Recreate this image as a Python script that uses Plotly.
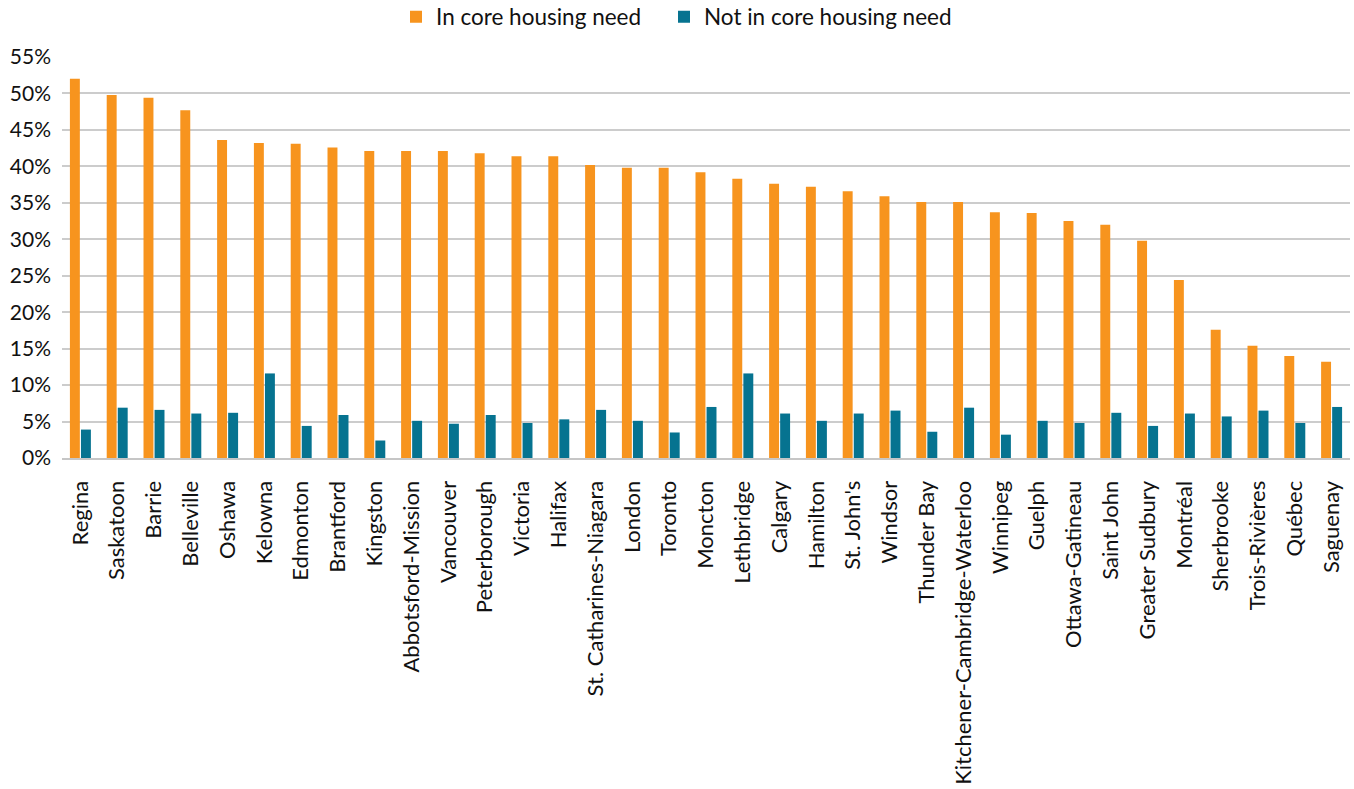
import plotly.graph_objects as go

cities = [
    "Regina", "Saskatoon", "Barrie", "Belleville", "Oshawa", "Kelowna", "Edmonton",
    "Brantford", "Kingston", "Abbotsford-Mission", "Vancouver", "Peterborough",
    "Victoria", "Halifax", "St. Catharines-Niagara", "London", "Toronto", "Moncton",
    "Lethbridge", "Calgary", "Hamilton", "St. John's", "Windsor", "Thunder Bay",
    "Kitchener-Cambridge-Waterloo", "Winnipeg", "Guelph", "Ottawa-Gatineau",
    "Saint John", "Greater Sudbury", "Montréal", "Sherbrooke", "Trois-Rivières",
    "Québec", "Saguenay",
]

in_core_need = [
    52.0, 49.8, 49.4, 47.7, 43.6, 43.2, 43.1, 42.6, 42.1, 42.1, 42.1, 41.8,
    41.4, 41.4, 40.2, 39.8, 39.8, 39.2, 38.3, 37.6, 37.2, 36.6, 35.9, 35.1,
    35.1, 33.7, 33.6, 32.5, 32.0, 29.8, 24.4, 17.6, 15.4, 14.0, 13.2,
]

not_in_core_need = [
    3.9, 6.9, 6.6, 6.1, 6.2, 11.6, 4.4, 5.9, 2.4, 5.1, 4.7, 5.9,
    4.8, 5.3, 6.6, 5.1, 3.5, 7.0, 11.6, 6.1, 5.1, 6.1, 6.5, 3.6,
    6.9, 3.2, 5.1, 4.8, 6.2, 4.4, 6.1, 5.7, 6.5, 4.8, 7.0,
]

y_ticks = list(range(0, 56, 5))
y_tick_labels = [f"{v}%" for v in y_ticks]

ORANGE = "#F7941E"
TEAL = "#067390"
FONT = "Lato"
TEXT = "#111111"
W, H = 1354, 789

fig = go.Figure()
fig.add_trace(go.Bar(
    x=cities, y=in_core_need, name="In core housing need",
    marker=dict(color=ORANGE, line=dict(width=0)),
    legend="legend", showlegend=True,
))
fig.add_trace(go.Bar(
    x=cities, y=not_in_core_need, name="Not in core housing need",
    marker=dict(color=TEAL, line=dict(width=0)),
    legend="legend2", showlegend=True,
))

legend_style = dict(
    orientation="h", xanchor="left", xref="container",
    y=1 - 17 / H, yanchor="middle", yref="container",
    font=dict(size=22.5, family=FONT, color=TEXT), itemwidth=30,
    bgcolor="rgba(0,0,0,0)", visible=True,
)

fig.update_layout(
    width=W, height=H, showlegend=True,
    margin=dict(l=62, r=4, t=57, b=331),
    paper_bgcolor="white", plot_bgcolor="white",
    barmode="group", bargap=0.4, bargroupgap=0.1,
    font=dict(family=FONT, color=TEXT, size=21),
    legend=dict(x=396 / W, **legend_style),
    legend2=dict(x=664 / W, **legend_style),
    xaxis=dict(
        tickangle=-90, showgrid=False, showline=True,
        linecolor="#c6c6c6", linewidth=2, ticks="",
        tickfont=dict(size=22, family=FONT, color=TEXT),
        ticklabelstandoff=12, automargin=False,
    ),
    yaxis=dict(
        range=[0, 55], tickvals=y_ticks, ticktext=y_tick_labels,
        showgrid=True, gridcolor="#cccccc", gridwidth=1.5,
        zeroline=False, showline=False, ticks="",
        tickfont=dict(size=21, family=FONT, color=TEXT),
        ticklabelstandoff=10, automargin=False,
    ),
)

fig.write_html("out.html")
